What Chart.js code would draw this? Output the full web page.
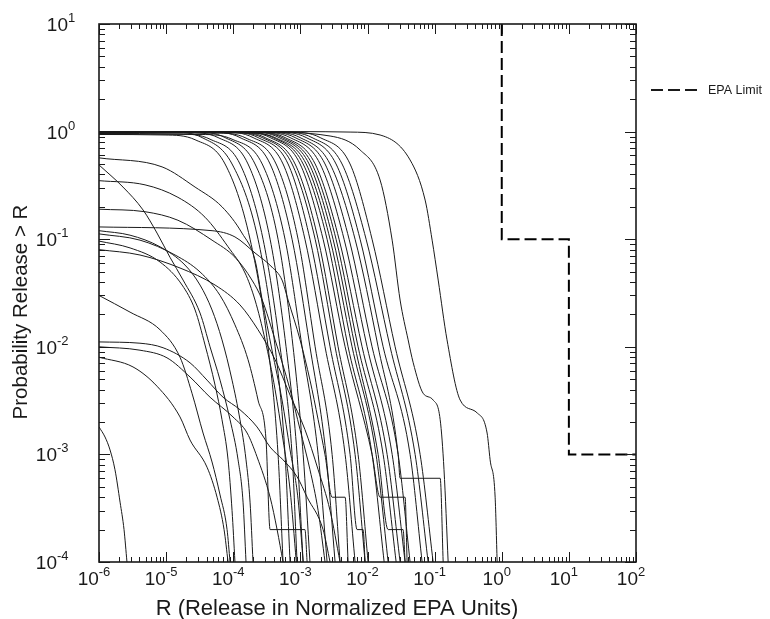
<!DOCTYPE html>
<html lang="en">
<head>
    <meta charset="UTF-8">
    <title>Probability Release &gt; R</title>
    <script src="https://cdn.jsdelivr.net/npm/chart.js"></script>
    <style>
        body { margin: 0; background: #fff; }
        canvas { display: block; }
    </style>
</head>
<body>
    <canvas id="releaseChart" width="770" height="619"></canvas>

    <script>
        // decade exponents for the tick labels
        const xTickExps = [-6, -5, -4, -3, -2, -1, 0, 1, 2];
        const yTickExps = [-4, -3, -2, -1, 0, 1];

        // EPA limit step line
        const epaX = [1, 1, 10, 10, 100];
        const epaY = [10, 0.1, 0.1, 1e-3, 1e-3];

        // curves that start near probability 1  ([R, P(release > R)])
        const curveA01 = [[1e-6,0.94],[9.63e-6,0.93],[2.70e-5,0.84],[7.55e-5,0.5],[1.78e-4,0.1],[3.30e-4,0.01],[4.65e-4,0.001],[5.52e-4,1e-4]];
        const curveA02 = [[1e-6,1],[1.22e-5,0.99],[3.43e-5,0.88],[9.6e-5,0.5],[2.34e-4,0.1],[4.20e-4,0.01],[5.91e-4,0.001],[7.02e-4,1e-4]];
        const curveA03 = [[1e-6,0.96],[1.61e-5,0.95],[4.51e-5,0.85],[1.26e-4,0.5],[2.78e-4,0.1],[4.98e-4,0.01],[7.52e-4,0.001],[8.93e-4,1e-4]];
        const curveA04 = [[1e-6,0.99],[2.12e-5,0.98],[5.94e-5,0.88],[1.66e-4,0.5],[3.54e-4,0.1],[6.12e-4,0.01],[8.93e-4,0.001],[1.10e-3,1e-4]];
        const curveA05 = [[1e-6,1],[2.70e-5,0.99],[7.55e-5,0.88],[2.11e-4,0.5],[4.65e-4,0.1],[7.78e-4,0.01],[1.10e-3,0.001],[1.39e-3,1e-4]];
        const curveA06 = [[1e-6,0.95],[3.43e-5,0.94],[9.6e-5,0.85],[2.70e-4,0.5],[5.91e-4,0.1],[1.06e-3,0.01],[1.84e-3,0.001],[2.50e-3,1e-4]];
        const curveA07 = [[1e-6,1],[4.51e-5,0.99],[1.26e-4,0.88],[3.54e-4,0.5],[7.52e-4,0.1],[1.39e-3,0.01],[2.41e-3,0.001],[3.29e-3,1e-4]];
        const curveA08 = [[1e-6,0.98],[5.54e-5,0.97],[1.55e-4,0.87],[4.35e-4,0.5],[9.25e-4,0.1],[1.66e-3,0.01],[2.97e-3,0.001],[3.90e-3,1e-4]];
        const curveA09 = [[1e-6,1],[7.05e-5,0.99],[1.97e-4,0.88],[5.52e-4,0.5],[1.17e-3,0.1],[2.33e-3,0.01],[4.64e-3,0.001],[6.53e-3,1e-4]];
        const curveA10 = [[1e-6,1],[8.37e-5,0.99],[2.34e-4,0.88],[6.56e-4,0.5],[1.39e-3,0.1],[2.77e-3,0.01],[5.50e-3,0.001],[7.00e-3,2e-4],[8.60e-3,2e-4],[9.21e-3,1e-4]];
        const curveA11 = [[1e-6,0.99],[9.6e-5,0.98],[2.70e-4,0.88],[7.52e-4,0.5],[1.66e-3,0.1],[3.29e-3,0.01],[6.53e-3,0.001],[9.21e-3,1e-4]];
        const curveA12 = [[1e-6,1],[1.06e-4,0.99],[2.98e-4,0.88],[8.34e-4,0.5],[1.84e-3,0.1],[3.65e-3,0.01],[7.24e-3,0.001],[1.02e-2,1e-4]];
        const curveA13 = [[1e-6,1],[1.26e-4,0.99],[3.54e-4,0.88],[9.9e-4,0.5],[2.18e-3,0.1],[4.64e-3,0.01],[1.17e-2,0.001],[1.54e-2,4e-4],[3.63e-2,4e-4],[3.89e-2,1e-4]];
        const curveA14 = [[1e-6,1],[1.40e-4,0.99],[3.92e-4,0.88],[1.10e-3,0.5],[2.50e-3,0.1],[5.14e-3,0.01],[1.17e-2,0.001],[1.77e-2,1e-4]];
        const curveA15 = [[1e-6,0.98],[1.55e-4,0.97],[4.35e-4,0.87],[1.22e-3,0.5],[2.77e-3,0.1],[5.89e-3,0.01],[1.34e-2,0.001],[2.03e-2,1e-4]];
        const curveA16 = [[1e-6,1],[1.72e-4,0.99],[4.81e-4,0.88],[1.35e-3,0.5],[3.07e-3,0.1],[6.53e-3,0.01],[1.44e-2,0.001],[2.03e-2,2e-4],[3.39e-2,2e-4],[3.63e-2,1e-4]];
        const curveA17 = [[1e-6,1],[1.91e-4,0.99],[5.33e-4,0.88],[1.49e-3,0.5],[3.40e-3,0.1],[7.24e-3,0.01],[1.71e-2,0.001],[2.67e-2,1e-4]];
        const curveA18 = [[1e-6,1],[2.11e-4,0.99],[5.91e-4,0.88],[1.66e-3,0.5],[3.77e-3,0.1],[8.31e-3,0.01],[1.96e-2,0.001],[3.06e-2,1e-4]];
        const curveA19 = [[1e-6,1],[2.51e-4,0.99],[7.02e-4,0.88],[1.97e-3,0.5],[4.48e-3,0.1],[9.87e-3,0.01],[2.33e-2,0.001],[3.63e-2,1e-4]];
        const curveA20 = [[1e-6,1],[2.98e-4,0.99],[8.34e-4,0.88],[2.33e-3,0.5],[5.32e-3,0.1],[1.17e-2,0.01],[2.86e-2,0.001],[4.31e-2,1e-4]];
        const curveA21 = [[1e-6,1],[3.54e-4,0.99],[9.9e-4,0.88],[2.77e-3,0.5],[6.53e-3,0.1],[1.44e-2,0.01],[2.86e-2,0.001],[3.06e-2,6e-4],[0.121,6e-4],[0.134,1e-4]];
        const curveA22 = [[1e-6,1],[4.35e-4,0.99],[1.22e-3,0.88],[3.40e-3,0.5],[7.76e-3,0.1],[1.71e-2,0.01],[4.31e-2,0.001],[6.51e-2,1e-4]];
        const curveA23 = [[1e-6,1],[5.33e-4,0.99],[1.49e-3,0.88],[4.18e-3,0.5],[9.53e-3,0.1],[2.17e-2,0.01],[5.12e-2,0.001],[8.0e-2,1e-4]];
        const curveA24 = [[1e-6,1],[7.02e-4,0.99],[1.97e-3,0.88],[5.50e-3,0.5],[1.17e-2,0.1],[2.58e-2,0.01],[6.08e-2,0.001],[9.5e-2,1e-4]];
        const curveR1 = [[1e-6,1],[9.9e-4,1],[5.5e-3,0.99],[1.54e-2,0.93],[4.31e-2,0.545],[7.22e-2,0.231],[9.18e-2,0.098],[0.113,0.0417],[0.153,0.0116],[0.24,0.0032],[0.43,0.00243],[0.605,0.00158],[0.671,0.00089],[0.797,0.0004],[0.854,1e-4]];
        const curveR2 = [[1e-6,1],[1.78e-4,1],[2.77e-3,0.91],[7.76e-3,0.675],[1.54e-2,0.355],[2.33e-2,0.098],[3.06e-2,0.0272],[4.03e-2,0.0116],[4.8e-2,0.0071],[6.74e-2,0.0037],[9.5e-2,0.0032],[0.121,0.0021],[0.138,0.00072],[0.159,1e-4]];

        // curves that start lower on the left axis
        const curveB01 = [[1e-6,0.57],[8.7e-6,0.47],[2.7e-5,0.305],[6.8e-5,0.2],[1.35e-4,0.114],[2.11e-4,0.064],[2.7e-4,0.0272],[3.78e-4,0.0093],[5.33e-4,0.0032],[7.02e-4,0.0011],[9.25e-4,0.00038],[1.10e-3,1e-4]];
        const curveB02 = [[1e-6,0.49],[2.28e-6,0.305],[4.53e-6,0.187],[7.32e-6,0.114],[1.14e-5,0.068],[1.79e-5,0.0417],[3.2e-5,0.0206],[4.51e-5,0.01],[6.36e-5,0.0049],[8.96e-5,0.0021],[1.18e-4,0.00089],[1.40e-4,0.00036],[1.55e-4,1e-4]];
        const curveB03 = [[1e-6,0.35],[4.85e-6,0.32],[1.5e-5,0.245],[3.8e-5,0.16],[8.37e-5,0.085],[1.5e-4,0.0485],[2.11e-4,0.0272],[2.98e-4,0.0116],[4.2e-4,0.004],[5.52e-4,0.00136],[7.02e-4,0.00047],[8.7e-4,1e-4]];
        const curveB04 = [[1e-6,0.19],[4.85e-6,0.18],[1.5e-5,0.15],[4.83e-5,0.098],[1.06e-4,0.068],[1.9e-4,0.0417],[2.7e-4,0.0272],[4.2e-4,0.0116],[7.02e-4,0.004],[9.9e-4,0.0017],[1.39e-3,0.00072],[1.84e-3,0.0003],[2.33e-3,1e-4]];
        const curveB05 = [[1e-6,0.13],[4.83e-5,0.12],[1.06e-4,0.105],[2.11e-4,0.0745],[3.78e-4,0.055],[5.33e-4,0.0417],[6.56e-4,0.0272],[9.9e-4,0.0116],[1.39e-3,0.0049],[1.84e-3,0.0021],[2.33e-3,0.00099],[2.97e-3,4e-4],[4.64e-3,4e-4],[5.14e-3,1e-4]];
        const curveB06 = [[1e-6,0.12],[2.9e-6,0.109],[8.11e-6,0.085],[1.91e-5,0.0575],[3.2e-5,0.0375],[4.83e-5,0.022],[6.8e-5,0.0116],[9.6e-5,0.0049],[1.26e-4,0.0021],[1.55e-4,0.00089],[1.78e-4,0.00036],[1.97e-4,1e-4]];
        const curveB07 = [[1e-6,0.112],[4.08e-6,0.098],[1.36e-5,0.0713],[3.2e-5,0.0496],[6.36e-5,0.03],[1.06e-4,0.016],[1.66e-4,0.0076],[2.34e-4,0.0032],[3.08e-4,0.00136],[3.54e-4,2e-4],[1.17e-3,2e-4],[1.26e-3,1e-4]];
        const curveB08 = [[1e-6,0.096],[2.9e-6,0.083],[8.11e-6,0.0614],[1.73e-5,0.0375],[2.7e-5,0.022],[3.8e-5,0.0104],[5.36e-5,0.0044],[6.8e-5,0.0021],[8.37e-5,0.00089],[9.6e-5,0.0003],[1.06e-4,1e-4]];
        const curveB09 = [[1e-6,0.08],[4.08e-6,0.0713],[1.61e-5,0.054],[5.36e-5,0.0375],[1.26e-4,0.0245],[2.34e-4,0.0144],[4.2e-4,0.0076],[7.02e-4,0.00356],[1.17e-3,0.0017],[1.84e-3,0.00072],[2.77e-3,0.0003],[3.90e-3,1e-4]];
        const curveB10 = [[1e-6,0.03],[2.9e-6,0.021],[8.11e-6,0.0144],[1.61e-5,0.008],[2.43e-5,0.0037],[3.55e-5,0.00158],[4.83e-5,0.00085],[6.36e-5,0.00042],[8.09e-5,0.0002],[8.96e-5,1e-4]];
        const curveB11 = [[1e-6,0.0111],[4.08e-6,0.0108],[9.0e-6,0.0098],[2.27e-5,0.0071],[4.07e-5,0.0049],[7.05e-5,0.0034],[1.26e-4,0.0026],[2.26e-4,0.0018],[3.54e-4,0.00117],[5.52e-4,0.00089],[8.93e-4,0.00062],[1.26e-3,0.0004],[2.18e-3,0.0002],[2.77e-3,1e-4]];
        const curveB12 = [[1e-6,0.01],[4.08e-6,0.0093],[1.03e-5,0.0079],[2.27e-5,0.00524],[4.51e-5,0.0034],[9.9e-5,0.00223],[1.61e-4,0.00158],[2.26e-4,0.00095],[3.54e-4,0.0004],[4.5e-4,0.0002],[5.52e-4,1e-4]];
        const curveB13 = [[1e-6,0.008],[3.21e-6,0.0065],[7.32e-6,0.0043],[1.61e-5,0.00223],[2.27e-5,0.00136],[4.07e-5,0.00076],[5.74e-5,0.0004],[7.3e-5,0.0002],[8.37e-5,1e-4]];
        const curveB14 = [[1e-6,0.0018],[1.23e-6,0.00145],[1.46e-6,0.0011],[1.73e-6,0.00072],[2.06e-6,0.00036],[2.36e-6,0.0002],[2.61e-6,1e-4]];

        const releaseCurves = [
            curveA01, curveA02, curveA03, curveA04, curveA05, curveA06, curveA07, curveA08,
            curveA09, curveA10, curveA11, curveA12, curveA13, curveA14, curveA15, curveA16,
            curveA17, curveA18, curveA19, curveA20, curveA21, curveA22, curveA23, curveA24,
            curveR1, curveR2,
            curveB01, curveB02, curveB03, curveB04, curveB05, curveB06, curveB07,
            curveB08, curveB09, curveB10, curveB11, curveB12, curveB13, curveB14
        ];

        const FONT = '"Liberation Sans", Arial, Helvetica, sans-serif';
        const INK = '#1a1a1a';

        // frame with inward ticks on all sides, 10^n labels, titles and legend
        const framePlugin = {
            id: 'framePlugin',
            afterDraw(chart) {
                const ctx = chart.ctx;
                const a = chart.chartArea;
                const xs = chart.scales.x;
                const ys = chart.scales.y;
                ctx.save();
                ctx.strokeStyle = INK;
                ctx.fillStyle = INK;

                ctx.lineWidth = 1;
                ctx.beginPath();
                xTickExps.forEach(n => {
                    for (let k = 1; k < 10; k++) {
                        const v = k * Math.pow(10, n);
                        if (v > xs.max * 1.0001) break;
                        const px = Math.round(xs.getPixelForValue(v)) + 0.5;
                        const len = k === 1 ? 10 : 5;
                        ctx.moveTo(px, a.bottom); ctx.lineTo(px, a.bottom - len);
                        ctx.moveTo(px, a.top); ctx.lineTo(px, a.top + len);
                    }
                });
                yTickExps.forEach(n => {
                    for (let k = 1; k < 10; k++) {
                        const v = k * Math.pow(10, n);
                        if (v > ys.max * 1.0001) break;
                        const py = Math.round(ys.getPixelForValue(v)) + 0.5;
                        const len = k === 1 ? 11 : 6;
                        ctx.moveTo(a.left, py); ctx.lineTo(a.left + len, py);
                        ctx.moveTo(a.right, py); ctx.lineTo(a.right - len, py);
                    }
                });
                ctx.stroke();

                ctx.lineWidth = 1.6;
                ctx.strokeRect(a.left, a.top, a.right - a.left, a.bottom - a.top);

                // tick labels
                const big = '19px ' + FONT;
                const small = '13px ' + FONT;
                ctx.textBaseline = 'alphabetic';
                ctx.textAlign = 'left';
                xTickExps.forEach(n => {
                    const px = xs.getPixelForValue(Math.pow(10, n));
                    const ex = n < 0 ? '-' + Math.abs(n) : String(n);
                    ctx.font = big;
                    const w1 = ctx.measureText('10').width;
                    ctx.font = small;
                    const w2 = ctx.measureText(ex).width;
                    const x0 = px - 5 - (w1 + w2) / 2;
                    ctx.font = big;
                    ctx.fillText('10', x0, 585);
                    ctx.font = small;
                    ctx.fillText(ex, x0 + w1, 576);
                });
                yTickExps.forEach(n => {
                    const py = ys.getPixelForValue(Math.pow(10, n));
                    const ex = n < 0 ? '-' + Math.abs(n) : String(n);
                    ctx.font = big;
                    const w1 = ctx.measureText('10').width;
                    const right = n < 0 ? 57 : 68;
                    ctx.fillText('10', right - w1, py + 7);
                    ctx.font = small;
                    ctx.fillText(ex, right, py - 2);
                });

                // axis titles
                ctx.font = '22px ' + FONT;
                ctx.textAlign = 'center';
                ctx.fillText('R (Release in Normalized EPA Units)', 337, 615);
                ctx.save();
                ctx.font = '20.5px ' + FONT;
                ctx.translate(27, 312);
                ctx.rotate(-Math.PI / 2);
                ctx.fillText('Probability Release > R', 0, 0);
                ctx.restore();

                // legend
                ctx.lineWidth = 2;
                ctx.setLineDash([12, 5]);
                ctx.beginPath();
                ctx.moveTo(651, 90); ctx.lineTo(697, 90);
                ctx.stroke();
                ctx.setLineDash([]);
                ctx.font = '12.5px ' + FONT;
                ctx.textAlign = 'left';
                ctx.textBaseline = 'middle';
                ctx.fillText('EPA Limit', 708, 91);
                ctx.restore();
            }
        };

        const curveSets = releaseCurves.map(c => ({
            data: c.map(p => ({ x: p[0], y: p[1] })),
            showLine: true,
            borderColor: INK,
            borderWidth: 1,
            pointRadius: 0,
            cubicInterpolationMode: 'monotone'
        }));

        const epaSet = {
            label: 'EPA Limit',
            data: epaX.map((x, i) => ({ x: x, y: epaY[i] })),
            showLine: true,
            borderColor: '#000',
            borderWidth: 2,
            borderDash: [12, 5],
            pointRadius: 0,
            tension: 0
        };

        const ctx = document.getElementById('releaseChart').getContext('2d');
        new Chart(ctx, {
            type: 'scatter',
            data: { datasets: curveSets.concat([epaSet]) },
            options: {
                responsive: false,
                animation: false,
                devicePixelRatio: 1,
                layout: { padding: { left: 99, right: 134, top: 24, bottom: 57 } },
                plugins: {
                    legend: { display: false },
                    tooltip: { enabled: false }
                },
                scales: {
                    x: { type: 'logarithmic', min: 1e-6, max: 100, display: false },
                    y: { type: 'logarithmic', min: 1e-4, max: 10, display: false }
                }
            },
            plugins: [framePlugin]
        });
    </script>
</body>
</html>
